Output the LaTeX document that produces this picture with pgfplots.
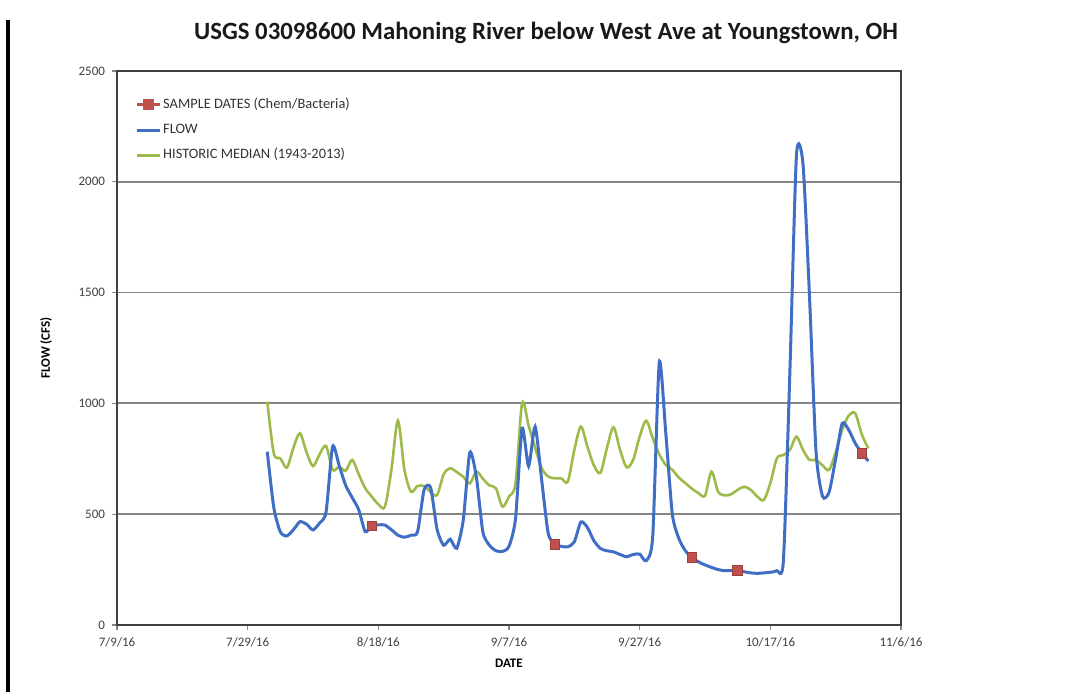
\documentclass[border=0pt]{standalone}
\usepackage{fontspec}
\setmainfont{Carlito}
\usepackage{pgfplots}
\pgfplotsset{compat=1.18}
\usepackage{pgfplotstable}
\definecolor{flowblue}{HTML}{3F6EC4}
\definecolor{medgreen}{HTML}{9DBB4A}
\definecolor{samplered}{HTML}{C0504D}
\definecolor{gridgray}{HTML}{858585}

% day = days since 7/9/16
\pgfplotstableread{
day flow
23 782
24 530
25 420
26 402
27 430
28 466
29 455
30 429
31 460
32 510
33 805
34 720
35 630
36 575
37 520
38 421
39 448
40 452
41 451
42 430
43 405
44 396
45 405
46 420
47 610
48 620
49 430
50 360
51 387
52 346
53 474
54 778
55 669
56 420
57 360
58 335
59 332
60 355
61 480
62 888
63 717
64 895
65 654
66 414
67 365
68 355
69 353
70 375
71 465
72 440
73 380
74 345
75 335
76 330
77 318
78 308
79 318
80 320
81 290
82 400
83 1185
84 865
85 500
86 390
87 335
88 305
89 285
90 271
91 260
92 250
93 245
94 245
95 245
96 240
97 235
98 233
99 235
100 238
101 245
102 290
103 1150
104 2120
105 2080
106 1480
107 780
108 580
109 600
110 750
111 910
112 880
113 820
114 775
115 740
}\flowtable

\pgfplotstableread{
day median
23 1008
24 775
25 752
26 710
27 800
28 865
29 780
30 717
31 770
32 808
33 700
34 714
35 696
36 745
37 680
38 617
39 579
40 545
41 534
42 700
43 922
44 700
45 602
46 627
47 627
48 600
49 587
50 680
51 707
52 690
53 669
54 639
55 692
56 660
57 630
58 617
59 534
60 580
61 640
62 1000
63 900
64 800
65 707
66 670
67 662
68 662
69 647
70 790
71 895
72 805
73 720
74 687
75 800
76 892
77 790
78 712
79 745
80 850
81 922
82 843
83 770
84 722
85 700
86 665
87 640
88 615
89 595
90 584
91 692
92 602
93 585
94 590
95 610
96 624
97 610
98 580
99 564
100 640
101 752
102 767
103 790
104 850
105 790
106 745
107 745
108 720
109 700
110 780
111 880
112 945
113 955
114 860
115 797
}\mediantable

\pgfplotstableread{
day sample
39 448
67 365
88 305
95 245
114 775
}\sampletable

\begin{document}
\begin{tikzpicture}
\useasboundingbox (0,0) rectangle (536.5pt,347pt);
\draw[line width=1.6pt, black] (4pt,1pt) -- (4pt,337pt);
\node[font=\bfseries\fontsize{12.4}{14}\selectfont, anchor=base, text=black!90] at (273pt,327.2pt) {USGS 03098600 Mahoning River below West Ave at Youngstown, OH};
\begin{axis}[
  at={(58.5pt,34.5pt)}, anchor=south west,
  scale only axis, width=392pt, height=277pt,
  xmin=0, xmax=120, ymin=0, ymax=2500,
  xtick={0,20,...,120},
  xticklabels={7/9/16,7/29/16,8/18/16,9/7/16,9/27/16,10/17/16,11/6/16},
  ytick={0,500,...,2500},
  ymajorgrids, grid style={gridgray, line width=0.9pt},
  tick style={gridgray, line width=0.6pt}, tick align=outside,
  major tick length=2.5pt,
  xtick pos=bottom, ytick pos=left,
  axis line style={draw=black!75, line width=0.8pt},
  ticklabel style={font=\fontsize{6.5}{7}\selectfont, text=black!75},
  /pgf/number format/assume math mode=true,
  /pgf/number format/1000 sep={},
  xlabel={DATE}, ylabel={FLOW (CFS)},
  label style={font=\fontsize{6.5}{7}\selectfont\bfseries},
  every axis x label/.append style={at={(axis description cs:0.5,-0.0686)}, anchor=center},
  every axis y label/.append style={at={(axis description cs:-0.0906,0.5)}, anchor=center},
  legend style={draw=none, fill=none, at={(0.015,0.962)}, anchor=north west,
    font=\fontsize{7.2}{8}\selectfont, text=black!80, row sep=4.5pt,
    nodes={text height=4.8pt, text depth=1.4pt, inner xsep=1pt, inner ysep=1pt}},
  legend cell align=left,
  legend image code/.code={\draw[mark repeat=2,mark phase=2,#1] plot coordinates {(0pt,0pt) (5.75pt,0pt) (11.5pt,0pt)};},
]
\addlegendimage{samplered, line width=1.2pt, mark=square*, mark size=2.2pt, mark options={fill=samplered, draw=samplered}}
\addlegendentry{SAMPLE DATES (Chem/Bacteria)}
\addlegendimage{flowblue, line width=1.5pt}
\addlegendentry{FLOW}
\addlegendimage{medgreen, line width=1.3pt}
\addlegendentry{HISTORIC MEDIAN (1943-2013)}

\addplot[forget plot, medgreen, line width=1.3pt, smooth, no markers] table[x=day, y=median] {\mediantable};
\addplot[forget plot, flowblue, line width=1.5pt, smooth, tension=0.4, no markers] table[x=day, y=flow] {\flowtable};
\addplot[forget plot, only marks, mark=square*, mark size=2.4pt, mark options={fill=samplered, draw=samplered!80!black}] table[x=day, y=sample] {\sampletable};
\end{axis}
\end{tikzpicture}
\end{document}
